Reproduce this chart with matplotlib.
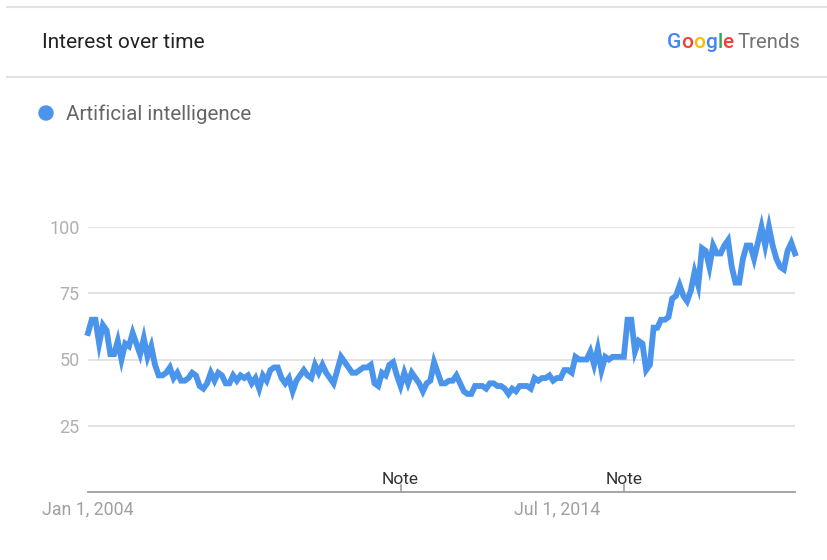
import matplotlib
matplotlib.use("Agg")
import matplotlib.pyplot as plt
import numpy as np

plt.rcParams['font.family'] = ['Roboto', 'DejaVu Sans']

# Monthly search interest, Jan 2004 onwards
interest = [
    60, 65, 65, 56, 63, 61, 52, 52, 57, 50, 56, 55,
    60, 56, 52, 58, 51, 55, 48, 44, 44, 45, 47, 43,
    45, 42, 42, 43, 45, 44, 40, 39, 41, 45, 42, 45,
    44, 41, 41, 44, 42, 44, 43, 44, 41, 43, 39, 44,
    42, 46, 47, 47, 43, 41, 43, 38, 42, 44, 46, 44,
    43, 48, 45, 48, 45, 43, 41, 46, 51, 49, 47, 45,
    45, 46, 47, 47, 48, 41, 40, 45, 44, 48, 49, 44,
    40, 45, 41, 45, 43, 41, 38, 41, 42, 49, 45, 41,
    41, 42, 42, 44, 41, 38, 37, 37, 40, 40, 40, 39,
    41, 41, 40, 40, 39, 37, 39, 38, 40, 40, 40, 39,
    43, 42, 43, 43, 44, 42, 43, 43, 46, 46, 45, 51,
    50, 50, 50, 53, 48, 54, 46, 51, 50, 51, 51, 51,
    51, 65, 65, 53, 57, 56, 46, 48, 62, 62, 65, 65,
    66, 73, 74, 78, 74, 72, 76, 83, 78, 92, 91, 85,
    93, 90, 90, 93, 95, 85, 79, 79, 88, 93, 93, 88,
    94, 100, 93, 100, 93, 88, 85, 84, 91, 94, 90,
]
series_name = "Artificial intelligence"
y_ticks = [25, 50, 75, 100]
x_tick_pos = [0, 126]
x_tick_labels = ["Jan 1, 2004", "Jul 1, 2014"]
note_pos = [84, 144]

months = np.arange(len(interest))

fig = plt.figure(figsize=(8.28, 5.6), dpi=100)
fig.patch.set_facecolor("white")

# Header rules
fig.add_artist(plt.Line2D([0.008, 1.0], [1 - 7 / 560, 1 - 7 / 560],
                          color="#e3e3e3", lw=1.5, transform=fig.transFigure))
fig.add_artist(plt.Line2D([0.008, 1.0], [1 - 77 / 560, 1 - 77 / 560],
                          color="#e3e3e3", lw=1.5, transform=fig.transFigure))

fig.text(42 / 828, 1 - 43 / 560, "Interest over time", fontsize=15,
         color="#222222", va="center", ha="left")

# Google Trends wordmark
g_letters = [("G", "#4285F4"), ("o", "#EA4335"), ("o", "#FBBC05"),
             ("g", "#4285F4"), ("l", "#34A853"), ("e", "#EA4335")]
fig.canvas.draw()
renderer = fig.canvas.get_renderer()
x_cur = 667 / 828
for ch, col in g_letters:
    t = fig.text(x_cur, 1 - 43 / 560, ch, fontsize=15, color=col,
                 va="center", ha="left", fontweight="medium")
    bb = t.get_window_extent(renderer)
    x_cur += bb.width / fig.bbox.width
fig.text(x_cur + 4 / 828, 1 - 43 / 560, "Trends", fontsize=14.6,
         color="#737373", va="center", ha="left")

# Legend
fig.add_artist(matplotlib.patches.Ellipse((46 / 828, 1 - 113 / 560),
                                          14 / 828, 14 / 560,
                                          color="#4a94ec",
                                          transform=fig.transFigure))
fig.text(66 / 828, 1 - 114 / 560, series_name, fontsize=14.8,
         color="#666666", va="center", ha="left")

ax = fig.add_axes([88 / 828, 1 - 492 / 560, (795 - 88) / 828, (492 - 227) / 560])
ax.set_xlim(0, len(interest) - 1)
ax.set_ylim(0, 100)
for v in y_ticks:
    ax.axhline(v, color="#e0e0e0", lw=1.3, zorder=0)
ax.plot(months, interest, color="#4a94ec", lw=4.2, solid_joinstyle="miter",
        clip_on=False, zorder=3)

for s in ["top", "right", "left"]:
    ax.spines[s].set_visible(False)
ax.spines["bottom"].set_color("#9e9e9e")
ax.spines["bottom"].set_linewidth(1.3)

ax.set_yticks(y_ticks)
ax.set_yticklabels([str(v) for v in y_ticks], fontsize=13, color="#b0b0b0")
ax.tick_params(axis="y", length=0, pad=6)
ax.set_xticks(x_tick_pos)
ax.set_xticklabels(x_tick_labels, fontsize=12.8, color="#a0a0a0")
ax.tick_params(axis="x", length=0, pad=6)

for p in note_pos:
    ax.plot([p, p], [0, 2.5], color="#9e9e9e", lw=1.2, clip_on=False)
    ax.text(p, 2.0, "Note", fontsize=12.5, color="#333333", ha="center",
            va="bottom")

fig.savefig("out.png", dpi=100)
